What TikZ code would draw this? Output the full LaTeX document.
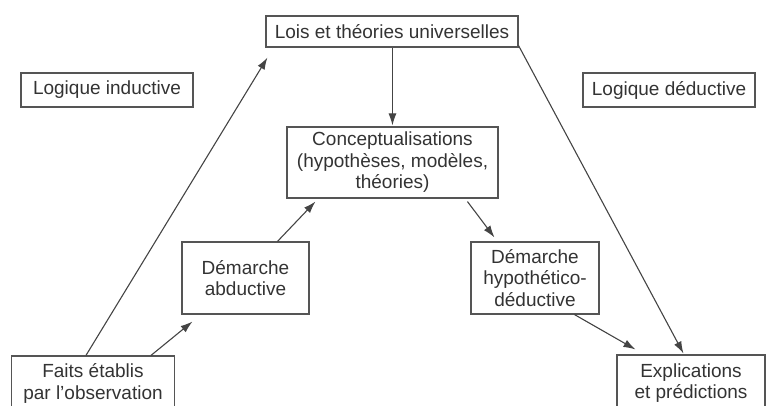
\documentclass[tikz,border=0pt]{standalone}
\usepackage{fontspec}
\setmainfont{Liberation Sans}
\usetikzlibrary{arrows.meta,calc}
\definecolor{boxline}{HTML}{555555}
\definecolor{arrowcol}{HTML}{444444}
\definecolor{txt}{HTML}{333333}
\begin{document}
\begin{tikzpicture}[x=1pt,y=-1pt,
  box/.style={draw=boxline,line width=1.1pt,rectangle,inner sep=0pt,align=center,
    text=txt,font=\fontsize{19}{21.5}\selectfont},
  conn/.style={draw=arrowcol,line width=1.1pt},
  arr/.style={conn,-{Latex[length=12pt,width=8pt]}}]
\useasboundingbox (0,0) rectangle (766,406);
\node[box,minimum width=252pt,minimum height=31pt] (lois) at (392,31.5) {Lois et théories universelles};
\node[box,minimum width=172pt,minimum height=34pt] (ind) at (107,90) {Logique inductive};
\node[box,minimum width=172pt,minimum height=34pt] (ded) at (669,90) {Logique déductive};
\node[box,minimum width=211pt,minimum height=71pt] (concept) at (392.5,162.5) {Conceptualisations\\(hypothèses, modèles,\\théories)};
\node[box,minimum width=127pt,minimum height=72pt] (abd) at (245.5,278) {Démarche\\abductive};
\node[box,minimum width=128pt,minimum height=72pt] (hyp) at (535,278) {Démarche\\hypothético-\\déductive};
\node[box,minimum width=163pt,minimum height=55pt] (faits) at (93,383.5) {Faits établis\\par l’observation};
\node[box,minimum width=148pt,minimum height=56pt] (expl) at (691,383) {Explications\\et prédictions};
% connectors
\draw[arr] ($(faits.north west)+(75,0)$) -- ($(lois.south west)+(2,10)$);
\draw[arr] ($(faits.north west)+(140,0)$) -- ($(abd.south west)+(11,7)$);
\draw[arr] ($(abd.north west)+(96,0)$) -- ($(concept.south west)+(29,3)$);
\draw[arr] ($(lois.south west)+(127,0)$) -- ($(concept.north west)+(106,-1)$);
\draw[arr] ($(lois.south east)+(0,-2)$) -- ($(expl.north west)+(67,-1)$);
\draw[arr] ($(concept.south west)+(181,3)$) -- ($(hyp.north west)+(24,-4)$);
\draw[arr] ($(hyp.south west)+(104,0)$) -- ($(expl.north west)+(19,-5)$);
\end{tikzpicture}
\end{document}
